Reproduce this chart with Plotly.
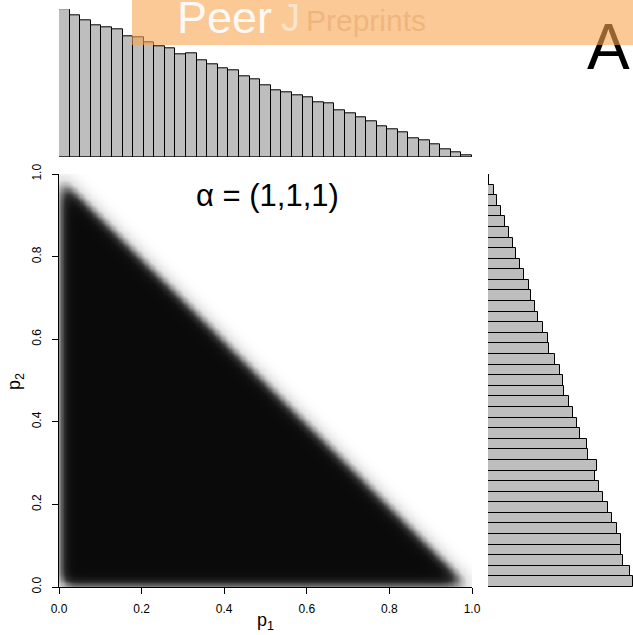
import numpy as np
import plotly.graph_objects as go

# ---------------- data ----------------
# top histogram of p1 (39 bins over [0,1]), bar heights
p1_counts = [442, 425, 409, 393, 387, 381, 360, 357, 343, 331, 324, 307, 309,
             289, 278, 264, 258, 241, 234, 214, 199, 195, 186, 179, 163, 160,
             140, 132, 118, 108, 93, 82, 75, 55, 51, 39, 24, 15, 4]
# right histogram of p2 (39 bins over [0,1]), listed from p2=0 upward
p2_counts = [435, 426, 406, 401, 401, 389, 373, 361, 345, 334, 323, 327, 301,
             299, 276, 269, 255, 244, 230, 224, 215, 202, 184, 181, 166, 150,
             142, 130, 124, 107, 97, 85, 76, 62, 51, 40, 28, 19, 3]
n_bins = 39
bin_edges = np.linspace(0, 1, n_bins + 1)
bin_centers = (bin_edges[:-1] + bin_edges[1:]) / 2

# main panel: smoothed density of the Dirichlet(1,1,1) simplex (p1 + p2 <= 1)
triangle_vertices = [(0.0, 0.0), (1.0, 0.0), (0.0, 1.0)]
kde_bandwidth = 0.019

x_ticks = [0.0, 0.2, 0.4, 0.6, 0.8, 1.0]
x_tick_labels = ["0.0", "0.2", "0.4", "0.6", "0.8", "1.0"]
y_ticks = [0.0, 0.2, 0.4, 0.6, 0.8, 1.0]
y_tick_labels = ["0.0", "0.2", "0.4", "0.6", "0.8", "1.0"]

# ---------------- density grid ----------------
n = 420
g = np.linspace(-0.1, 1.1, n)
step = g[1] - g[0]
X, Y = np.meshgrid(g, g)
(ax_, ay_), (bx_, by_), (cx_, cy_) = triangle_vertices
ind = ((X >= min(ax_, cx_)) & (Y >= min(ay_, by_)) & (X + Y <= bx_)).astype(float)
half = int(np.ceil(4 * kde_bandwidth / step))
t = np.arange(-half, half + 1) * step
k = np.exp(-0.5 * (t / kde_bandwidth) ** 2)
k /= k.sum()
sm = np.apply_along_axis(lambda r: np.convolve(r, k, mode="same"), 1, ind)
sm = np.apply_along_axis(lambda c: np.convolve(c, k, mode="same"), 0, sm)
mask = (g >= 0) & (g <= 1)
gx = g[mask]
Z = sm[np.ix_(mask, mask)]

W, H = 633, 635


def px(x):
    return x / W


def py(y):
    return 1 - y / H


fig = go.Figure()

fig.add_trace(go.Heatmap(
    x=gx, y=gx, z=Z, zmin=0, zmax=1, zsmooth="best",
    colorscale=[[0, "#ffffff"], [0.3, "#e0e0e0"], [0.5, "#a0a0a0"],
                [0.75, "#303030"], [0.92, "#101010"], [1, "#0a0a0a"]],
    showscale=False, hoverinfo="skip", xaxis="x", yaxis="y"))

fig.add_trace(go.Bar(
    x=bin_centers, y=p1_counts, width=1 / n_bins,
    marker=dict(color="#bebebe", line=dict(color="#000000", width=1)),
    xaxis="x2", yaxis="y2", hoverinfo="skip"))

fig.add_trace(go.Bar(
    y=bin_centers, x=p2_counts, width=1 / n_bins, orientation="h",
    marker=dict(color="#bebebe", line=dict(color="#000000", width=1)),
    xaxis="x3", yaxis="y3", hoverinfo="skip"))

main_x = [px(59), px(472)]
main_y = [py(587), py(174)]

fig.update_layout(
    width=W, height=H, autosize=False,
    margin=dict(l=0, r=0, t=0, b=0, pad=0, autoexpand=False),
    paper_bgcolor="white", plot_bgcolor="white",
    showlegend=False,
    bargap=0,
    font=dict(family="Liberation Sans", color="#000000"),
    xaxis=dict(domain=main_x, range=[0, 1], tickvals=x_ticks, ticktext=x_tick_labels,
               ticks="outside", ticklen=6, tickcolor="#000", showline=True,
               linecolor="#000", linewidth=1, showgrid=False, zeroline=False,
               tickfont=dict(size=12), ticklabelstandoff=5, anchor="y"),
    yaxis=dict(domain=main_y, range=[0, 1], tickvals=y_ticks, ticktext=y_tick_labels,
               ticks="outside", ticklen=6, tickcolor="#000", showline=True,
               linecolor="#000", linewidth=1, showgrid=False, zeroline=False,
               tickfont=dict(size=12), tickangle=-90, ticklabelstandoff=6, anchor="x"),
    xaxis2=dict(domain=main_x, range=[0, 1], visible=False, anchor="y2"),
    yaxis2=dict(domain=[py(157), py(9.3)], range=[0, max(p1_counts)], visible=False, anchor="x2"),
    xaxis3=dict(domain=[px(488), 1.0], range=[0, 436], visible=False, anchor="y3"),
    yaxis3=dict(domain=main_y, range=[0, 1], visible=False, anchor="x3"),
)

ann = []
ann.append(dict(text="p<sub>1</sub>", x=px(265), y=py(621), xref="paper", yref="paper",
                showarrow=False, font=dict(size=18), xanchor="center", yanchor="middle"))
ann.append(dict(text="p<sub>2</sub>", x=px(15), y=py(381), xref="paper", yref="paper",
                showarrow=False, font=dict(size=18), textangle=-90,
                xanchor="center", yanchor="middle"))
ann.append(dict(text="α = (1,1,1)", x=px(267), y=py(196), xref="paper", yref="paper",
                showarrow=False, font=dict(size=31), xanchor="center", yanchor="middle"))
ann.append(dict(text="A", x=px(608), y=py(47), xref="paper", yref="paper",
                showarrow=False, font=dict(size=64), xanchor="center", yanchor="middle"))
# watermark band
ann.append(dict(text=" ", x=px(132), y=1.0, xref="paper", yref="paper", showarrow=False,
                xanchor="left", yanchor="top", width=W - 132, height=45,
                font=dict(size=10),
                bgcolor="rgba(247,165,80,0.6)", borderpad=0, borderwidth=0))
ann.append(dict(text="Peer", x=px(175), y=py(17), xref="paper", yref="paper",
                showarrow=False, font=dict(size=45, color="rgba(255,255,255,0.92)"),
                xanchor="left", yanchor="middle"))
ann.append(dict(text="J", x=px(279), y=py(18), xref="paper", yref="paper",
                showarrow=False, font=dict(size=38, color="rgba(255,255,255,0.5)"),
                xanchor="left", yanchor="middle"))
ann.append(dict(text="Preprints", x=px(304), y=py(21), xref="paper", yref="paper",
                showarrow=False, font=dict(size=30, color="rgba(225,150,90,0.4)"),
                xanchor="left", yanchor="middle"))
fig.update_layout(annotations=ann)

fig.write_html("out.html", config={"displayModeBar": False},
               post_script="document.body.style.margin='0';")
